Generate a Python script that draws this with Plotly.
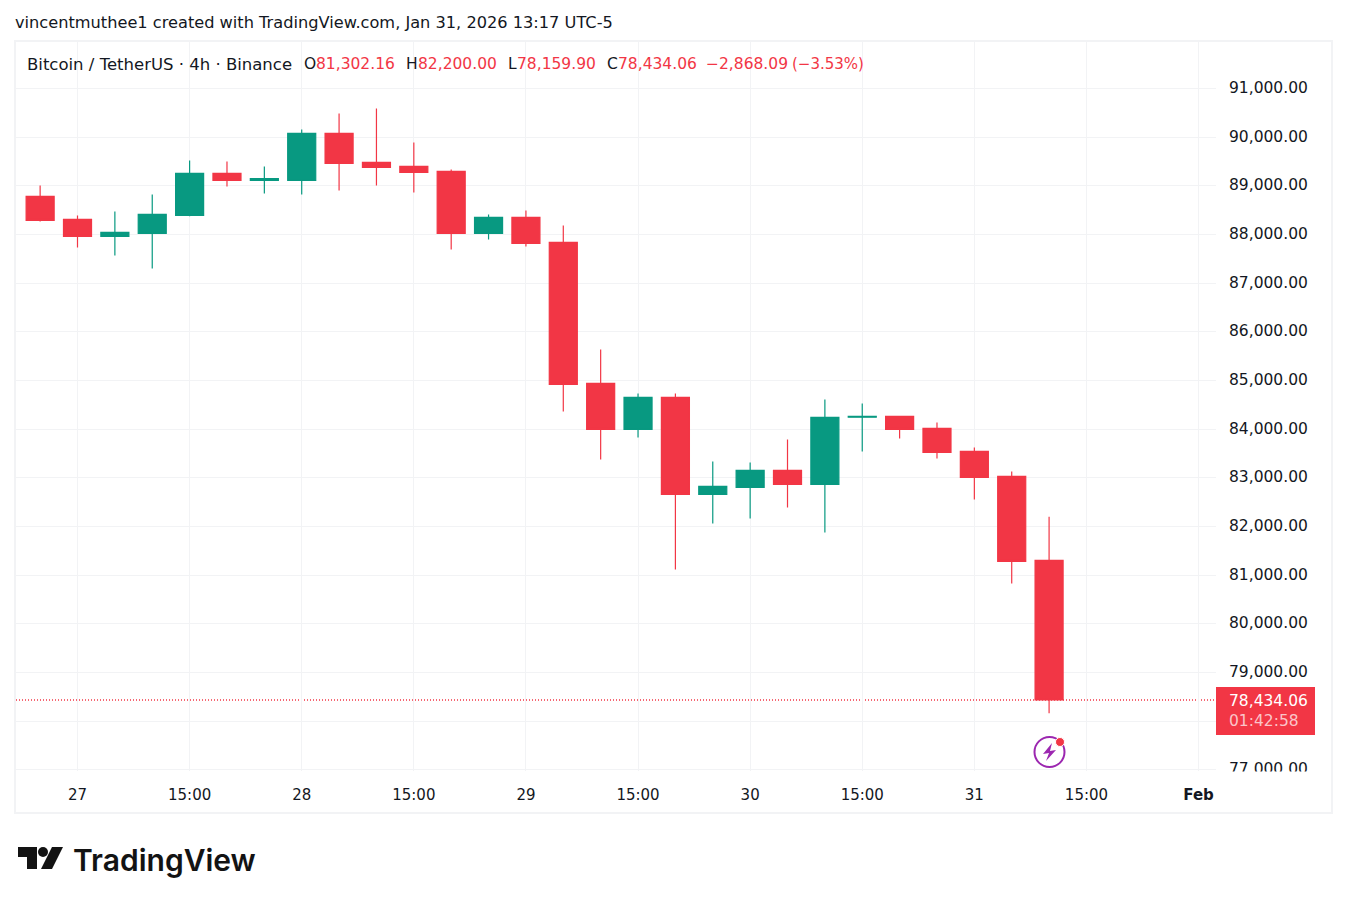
import plotly.graph_objects as go

# BTCUSDT 4h candles
times = ["2026-01-26 23:00", "2026-01-27 03:00", "2026-01-27 07:00", "2026-01-27 11:00", "2026-01-27 15:00",
         "2026-01-27 19:00", "2026-01-27 23:00", "2026-01-28 03:00", "2026-01-28 07:00", "2026-01-28 11:00",
         "2026-01-28 15:00", "2026-01-28 19:00", "2026-01-28 23:00", "2026-01-29 03:00", "2026-01-29 07:00",
         "2026-01-29 11:00", "2026-01-29 15:00", "2026-01-29 19:00", "2026-01-29 23:00", "2026-01-30 03:00",
         "2026-01-30 07:00", "2026-01-30 11:00", "2026-01-30 15:00", "2026-01-30 19:00", "2026-01-30 23:00",
         "2026-01-31 03:00", "2026-01-31 07:00", "2026-01-31 11:00"]
opens = [88786, 88313, 87963, 88025, 88395, 89259, 89115, 89115, 90081, 89485, 89402, 89300, 88025, 88354,
         87840, 84941, 83995, 84653, 82659, 82803, 83152, 82864, 84245, 84262, 84016, 83543, 83029, 81302.16]
highs = [89012, 88395, 88477, 88827, 89526, 89505, 89402, 90163, 90492, 90595, 89896, 89341, 88416, 88498,
         88189, 85640, 84735, 84735, 83337, 83317, 83790, 84612, 84530, 84270, 84139, 83625, 83132, 82200.00]
lows = [88272, 87737, 87573, 87305, 88375, 88991, 88847, 88827, 88909, 89012, 88868, 87696, 87902, 87758,
        84365, 83378, 83831, 81117, 82063, 82165, 82391, 81878, 83543, 83810, 83399, 82556, 80829, 78159.90]
closes = [88292, 87963, 88046, 88416, 89259, 89115, 89150, 90081, 89464, 89382, 89279, 88025, 88354, 87819,
          84920, 83995, 84653, 82659, 82823, 83152, 82864, 84242, 84265, 83995, 83522, 83008, 81281, 78434.06]

price_ticks = [77000, 78000, 79000, 80000, 81000, 82000, 83000, 84000, 85000, 86000, 87000, 88000, 89000, 90000, 91000]
# 78,000 sits behind the last price tag, so only its grid line shows
price_labels = ["77,000.00", "", "79,000.00", "80,000.00", "81,000.00", "82,000.00", "83,000.00", "84,000.00",
                "85,000.00", "86,000.00", "87,000.00", "88,000.00", "89,000.00", "90,000.00", "91,000.00"]
time_ticks = ["2026-01-27 03:00", "2026-01-27 15:00", "2026-01-28 03:00", "2026-01-28 15:00", "2026-01-29 03:00",
              "2026-01-29 15:00", "2026-01-30 03:00", "2026-01-30 15:00", "2026-01-31 03:00", "2026-01-31 15:00",
              "2026-02-01 03:00"]
time_labels = ["27", "15:00", "28", "15:00", "29", "15:00", "30", "15:00", "31", "15:00", "<b>Feb</b>"]

W, H = 1347, 904
LEFT, RIGHT, TOP, BOTTOM = 16, 1216, 42, 771
RED = "#F23645"
GREEN = "#089981"
INK = "#131722"
GRID = "#F2F3F5"
FONT = "DejaVu Sans"


# page pixels to paper coordinates (paper is the plot area in plotly)
def px(x):
    return (x - LEFT) / (RIGHT - LEFT)


def py(y):
    return (BOTTOM - y) / (BOTTOM - TOP)


def label(text, x, y, color=INK, size=15.5, family=FONT, weight=None):
    return dict(text=text, x=px(x - 1), y=py(y), xref="paper", yref="paper", xanchor="left", yanchor="middle",
                align="left", showarrow=False, borderpad=0,
                font=dict(family=family, size=size, color=color, weight=weight))


def path(points, color="#131313"):
    d = "M" + " L".join(f"{px(a):.5f},{py(b):.5f}" for a, b in points) + " Z"
    return dict(type="path", path=d, xref="paper", yref="paper", fillcolor=color, line_width=0)


def circle(cx, cy, r, **kw):
    return dict(type="circle", xref="paper", yref="paper", x0=px(cx - r), x1=px(cx + r),
                y0=py(cy + r), y1=py(cy - r), **kw)


def box(x0, y0, x1, y1, **kw):
    return dict(type="rect", xref="paper", yref="paper", x0=px(x0), x1=px(x1), y0=py(y1), y1=py(y0), **kw)


fig = go.Figure(go.Candlestick(
    x=times, open=opens, high=highs, low=lows, close=closes,
    increasing=dict(line=dict(color=GREEN, width=1.2), fillcolor=GREEN),
    decreasing=dict(line=dict(color=RED, width=1.2), fillcolor=RED),
    whiskerwidth=0, showlegend=False,
))

shapes = [
    box(15, 41, 1332, 813, line=dict(color=GRID, width=2), fillcolor="rgba(0,0,0,0)", layer="below"),
    dict(type="line", xref="paper", yref="y", x0=0, x1=1, y0=closes[-1], y1=closes[-1],
         line=dict(color=RED, width=1.5, dash="1px,2px"), layer="below"),
    # the lowest price label is cut off by the pane edge
    box(1217, 771.5, 1330, 784, fillcolor="white", line_width=0),
    box(1216, 687, 1315, 735, fillcolor=RED, line_width=0),
    # news icon
    circle(1049.5, 752, 15, line=dict(color="#9C27B0", width=2), fillcolor="white"),
    circle(1060, 742, 4.5, fillcolor=RED, line=dict(color="white", width=1)),
    path([(1052, 743), (1043, 754), (1049, 753), (1046, 761), (1056, 750), (1050, 751)], "#9C27B0"),
    # logo
    path([(18, 847), (37, 847), (37, 869), (27, 869), (27, 857), (18, 857)]),
    circle(43, 852, 5, fillcolor="#131313", line_width=0),
    path([(52, 847), (63, 847), (52, 869), (41, 869)]),
]

annotations = [
    label("vincentmuthee1 created with TradingView.com, Jan 31, 2026 13:17 UTC-5", 15, 23, size=16.2),
    label("Bitcoin / TetherUS · 4h · Binance", 27, 64, size=16.5),
    label("O", 304, 64), label("81,302.16", 316, 64, RED),
    label("H", 406, 64), label("82,200.00", 418, 64, RED),
    label("L", 508, 64), label("78,159.90", 517, 64, RED),
    label("C", 607, 64), label("78,434.06", 618, 64, RED),
    label("−2,868.09", 706, 64, RED),
    label("(−3.53%)", 792, 64, RED, size=15),
    label("78,434.06<br><span style='color:#FBC4C9'>01:42:58</span>", 1229, 710.5, "white"),
    label("TradingView", 73, 860, "#131313", 30, family="Inter", weight=600),
]

fig.update_layout(
    width=W, height=H, autosize=False,
    margin=dict(l=LEFT, r=W - RIGHT, t=TOP, b=H - BOTTOM, pad=0),
    paper_bgcolor="white", plot_bgcolor="white",
    font=dict(family=FONT, size=15.5, color=INK),
    boxgap=0.25, boxgroupgap=0,
    showlegend=False,
    shapes=shapes,
    annotations=annotations,
    xaxis=dict(type="date", range=["2026-01-26 20:25", "2026-02-01 04:52"], rangeslider_visible=False,
               tickmode="array", tickvals=time_ticks, ticktext=time_labels, showgrid=True, gridcolor=GRID,
               gridwidth=1, zeroline=False, showline=False, ticks="", ticklabelstandoff=13,
               tickfont=dict(size=15)),
    yaxis=dict(side="right", range=[76972, 91960], tickmode="array", tickvals=price_ticks, ticktext=price_labels,
               showgrid=True, gridcolor=GRID, gridwidth=1, zeroline=False, showline=False, ticks="",
               ticklabelstandoff=12, ticklabelshift=-1),
)

fig.write_html("out.html", config={"displayModeBar": False},
               post_script="document.body.style.margin='0';document.body.style.overflow='hidden';")
